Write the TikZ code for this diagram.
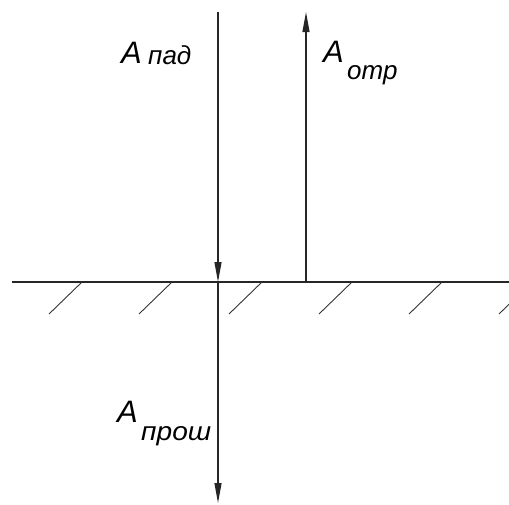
\documentclass[tikz,border=0pt]{standalone}
\usepackage{fontspec}
\setmainfont{Liberation Sans}
\usetikzlibrary{arrows.meta}
\tikzset{
  ray/.style={line width=1.2pt, draw=black!85},
  tip/.style={-{Triangle[length=20pt,width=7pt]}},
  hatch/.style={line width=0.9pt, draw=black!80},
  bigA/.style={anchor=base west, inner sep=0pt, font=\itshape\fontsize{31}{31}\selectfont},
  sub/.style={anchor=base west, inner sep=0pt, font=\itshape\fontsize{26}{26}\selectfont},
}
\begin{document}
\begin{tikzpicture}[x=1pt,y=-1pt]
\useasboundingbox (0,0) rectangle (509,504);
% coordinates
\coordinate (ltop) at (218,12);
\coordinate (lmid) at (218,282);
\coordinate (lbot) at (218,503);
\coordinate (rbase) at (306,282);
\coordinate (rtop) at (306,12);
\coordinate (gl) at (12,282);
\coordinate (gr) at (509,282);
% ground
\draw[ray] (gl) -- (gr);
\foreach \k in {0,...,5} {
  \coordinate (h\k a) at ({82+90*\k},282);
  \coordinate (h\k b) at ({82+90*\k-33},314);
  \draw[hatch] (h\k a) -- (h\k b);
}
% rays
\draw[ray,tip] (ltop) -- (lmid);
\draw[ray,tip] (lmid) -- (lbot);
\draw[ray,tip] (rbase) -- (rtop);
% labels
\node[bigA] (apad) at (121,63) {A};
\node[sub] (spad) at (148,64) {пад};
\node[bigA] (aotr) at (323,62) {A};
\node[sub] (sotr) at (347,79) {отр};
\node[bigA] (apr) at (117,422) {A};
\node[sub] (spr) at (141,440) {\scalebox{1.08}[1]{прош}};
\end{tikzpicture}
\end{document}
